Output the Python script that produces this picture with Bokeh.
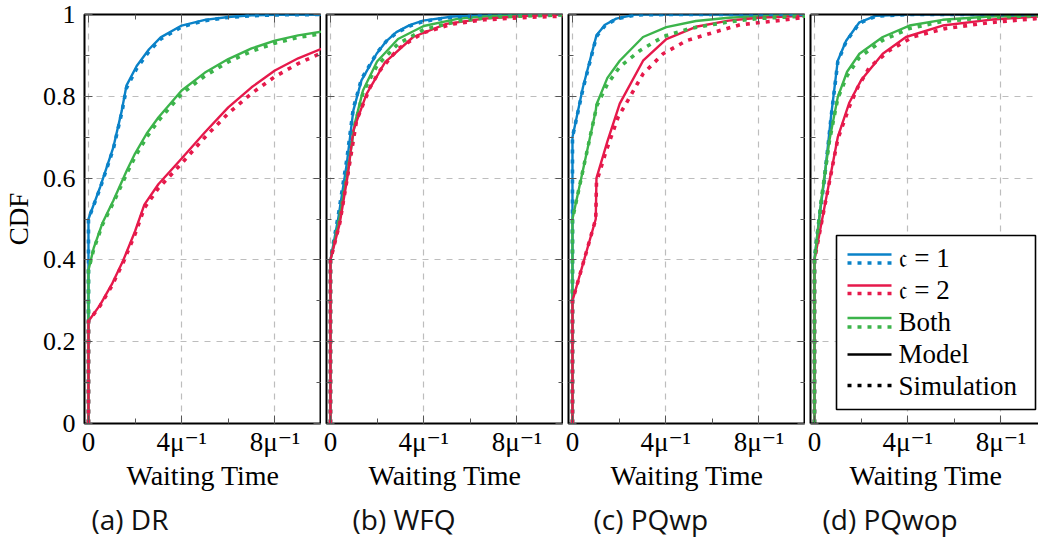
from bokeh.plotting import figure
from bokeh.layouts import row
from bokeh.models import (FixedTicker, LinearAxis, Range1d, BoxAnnotation, Title)
from bokeh.core.properties import value
from bokeh.embed import file_html
from bokeh.resources import INLINE

# ---------------- data ----------------
panel_names = ["(a) DR", "(b) WFQ", "(c) PQwp", "(d) PQwop"]
series_names = ["𝔠 = 1", "𝔠 = 2", "Both"]
x_ticks = [0, 4, 8]
x_tick_labels = ["0", "4μ⁻¹", "8μ⁻¹"]
y_ticks = [0, 0.2, 0.4, 0.6, 0.8, 1.0]
y_tick_labels = ["0", "0.2", "0.4", "0.6", "0.8", "1"]

# (a) DR
dr_c1_x = [0, 0, 0.5, 1.07, 1.43, 1.63, 2.07, 2.6, 3.1, 4.0, 5.0, 6.0, 7.0, 8.0, 10.0]
dr_c1_model = [0, 0.50, 0.578, 0.676, 0.765, 0.826, 0.874, 0.915, 0.944, 0.973, 0.987, 0.994, 0.998, 0.999, 1.0]
dr_c1_sim = [0, 0.50, 0.575, 0.672, 0.760, 0.820, 0.868, 0.910, 0.940, 0.970, 0.985, 0.993, 0.997, 0.999, 1.0]
dr_both_x = [0, 0, 0.22, 0.6, 1.07, 1.65, 2.0, 2.5, 3.0, 4.0, 5.0, 6.0, 7.0, 8.0, 9.0, 10.0]
dr_both_model = [0, 0.375, 0.428, 0.49, 0.545, 0.619, 0.66, 0.709, 0.748, 0.814, 0.858, 0.891, 0.917, 0.936, 0.949, 0.958]
dr_both_sim = [0, 0.375, 0.425, 0.486, 0.54, 0.612, 0.652, 0.70, 0.74, 0.806, 0.85, 0.884, 0.91, 0.93, 0.944, 0.953]
dr_c2_x = [0, 0, 0.5, 1.0, 1.5, 2.0, 2.4, 3.0, 4.0, 5.0, 6.0, 7.0, 8.0, 9.0, 10.0]
dr_c2_model = [0, 0.25, 0.29, 0.34, 0.40, 0.47, 0.535, 0.585, 0.648, 0.712, 0.773, 0.822, 0.863, 0.893, 0.916]
dr_c2_sim = [0, 0.25, 0.288, 0.336, 0.395, 0.463, 0.527, 0.575, 0.636, 0.70, 0.758, 0.807, 0.848, 0.88, 0.906]

# (b) WFQ
wfq_c1_x = [0, 0, 0.34, 0.7, 0.98, 1.33, 1.98, 2.4, 2.83, 3.4, 3.97, 5.26, 6.5, 8.0, 10.0]
wfq_c1_model = [0, 0.40, 0.504, 0.635, 0.765, 0.839, 0.904, 0.935, 0.957, 0.974, 0.985, 0.995, 0.998, 1.0, 1.0]
wfq_c1_sim = [0, 0.40, 0.51, 0.645, 0.77, 0.842, 0.905, 0.935, 0.955, 0.972, 0.983, 0.994, 0.998, 0.999, 1.0]
wfq_both_x = [0, 0, 0.35, 0.75, 1.05, 1.4, 2.0, 2.9, 4.0, 5.5, 7.0, 10.0]
wfq_both_model = [0, 0.40, 0.49, 0.62, 0.735, 0.815, 0.885, 0.94, 0.972, 0.99, 0.997, 1.0]
wfq_both_sim = [0, 0.40, 0.49, 0.618, 0.73, 0.81, 0.875, 0.928, 0.963, 0.984, 0.994, 0.999]
wfq_c2_model_x = [0, 0, 0.4, 0.75, 0.98, 1.55, 2.34, 3.55, 4.97, 6.6, 8.5, 10.0]
wfq_c2_model = [0, 0.40, 0.49, 0.61, 0.716, 0.806, 0.883, 0.945, 0.977, 0.99, 0.997, 1.0]
wfq_c2_sim_x = [0, 0, 0.4, 0.75, 1.12, 1.7, 2.12, 2.9, 3.97, 5.26, 6.6, 8.45, 10.0]
wfq_c2_sim = [0, 0.40, 0.49, 0.61, 0.741, 0.822, 0.863, 0.916, 0.955, 0.977, 0.987, 0.993, 0.996]

# (c) PQwp
pqwp_c1_x = [0, 0, 0.45, 1.03, 1.4, 1.88, 2.7, 4.0, 10.0]
pqwp_c1_model = [0, 0.70, 0.822, 0.949, 0.975, 0.99, 1.0, 1.0, 1.0]
pqwp_c1_sim = [0, 0.70, 0.818, 0.946, 0.973, 0.989, 0.999, 1.0, 1.0]
pqwp_both_model_x = [0, 0, 1.0, 1.03, 1.5, 2.03, 3.03, 4.03, 5.3, 6.7, 8.0, 10.0]
pqwp_both_model = [0, 0.50, 0.765, 0.78, 0.845, 0.887, 0.945, 0.969, 0.984, 0.992, 0.996, 0.999]
pqwp_both_sim_x = [0, 0, 1.0, 1.03, 1.5, 2.03, 2.9, 3.9, 5.05, 6.5, 7.9, 10.0]
pqwp_both_sim = [0, 0.50, 0.765, 0.775, 0.83, 0.872, 0.912, 0.946, 0.966, 0.98, 0.99, 0.996]
pqwp_c2_model_x = [0, 0, 1.0, 1.03, 1.5, 2.03, 3.03, 4.03, 5.3, 6.7, 8.0, 10.0]
pqwp_c2_model = [0, 0.30, 0.50, 0.60, 0.69, 0.782, 0.887, 0.94, 0.97, 0.985, 0.992, 0.997]
pqwp_c2_sim_x = [0, 0, 1.0, 1.03, 1.45, 1.96, 2.46, 3.03, 3.89, 4.89, 6.1, 7.2, 8.8, 10.0]
pqwp_c2_sim = [0, 0.30, 0.50, 0.59, 0.667, 0.749, 0.798, 0.855, 0.904, 0.936, 0.957, 0.975, 0.985, 0.993]

# (d) PQwop
pqwop_c1_x = [0, 0, 0.2, 0.43, 0.71, 1.0, 1.36, 1.93, 2.65, 4.0, 10.0]
pqwop_c1_model = [0, 0.40, 0.50, 0.60, 0.75, 0.887, 0.936, 0.981, 0.997, 1.0, 1.0]
pqwop_c1_sim = [0, 0.40, 0.50, 0.598, 0.747, 0.884, 0.934, 0.979, 0.996, 1.0, 1.0]
pqwop_both_x = [0, 0, 0.3, 0.64, 1.0, 1.4, 1.93, 2.93, 4.08, 5.5, 7.5, 10.0]
pqwop_both_model = [0, 0.40, 0.55, 0.692, 0.798, 0.86, 0.904, 0.945, 0.973, 0.987, 0.995, 0.999]
pqwop_both_sim = [0, 0.40, 0.55, 0.69, 0.795, 0.85, 0.895, 0.937, 0.966, 0.983, 0.993, 0.998]
pqwop_c2_model_x = [0, 0, 0.4, 1.0, 1.5, 2.0, 2.93, 3.93, 5.5, 7.5, 9.5, 10.0]
pqwop_c2_model = [0, 0.40, 0.52, 0.70, 0.785, 0.839, 0.904, 0.945, 0.973, 0.987, 0.995, 0.996]
pqwop_c2_sim_x = [0, 0, 0.4, 1.0, 1.5, 1.86, 2.36, 3.22, 4.22, 5.65, 7.5, 9.5, 10.0]
pqwop_c2_sim = [0, 0.40, 0.52, 0.695, 0.775, 0.822, 0.871, 0.912, 0.945, 0.966, 0.98, 0.99, 0.992]

# ---------------- style ----------------
BLUE = "#0a82c8"
RED = "#e6194b"
GREEN = "#3cb44b"
SERIF = "'Liberation Serif', 'DejaVu Serif', serif"
SANS = "'Open Sans', sans-serif"
MODEL_W = 2.4
SIM_W = 3.6
SIM_DASH = "4 6"

X_START = -0.17
PX_PER_UNIT = 23.3
FRAME_H = 409

panels = [
    [(BLUE, dr_c1_x, dr_c1_model, dr_c1_x, dr_c1_sim),
     (GREEN, dr_both_x, dr_both_model, dr_both_x, dr_both_sim),
     (RED, dr_c2_x, dr_c2_model, dr_c2_x, dr_c2_sim)],
    [(BLUE, wfq_c1_x, wfq_c1_model, wfq_c1_x, wfq_c1_sim),
     (GREEN, wfq_both_x, wfq_both_model, wfq_both_x, wfq_both_sim),
     (RED, wfq_c2_model_x, wfq_c2_model, wfq_c2_sim_x, wfq_c2_sim)],
    [(BLUE, pqwp_c1_x, pqwp_c1_model, pqwp_c1_x, pqwp_c1_sim),
     (GREEN, pqwp_both_model_x, pqwp_both_model, pqwp_both_sim_x, pqwp_both_sim),
     (RED, pqwp_c2_model_x, pqwp_c2_model, pqwp_c2_sim_x, pqwp_c2_sim)],
    [(BLUE, pqwop_c1_x, pqwop_c1_model, pqwop_c1_x, pqwop_c1_sim),
     (RED, pqwop_c2_model_x, pqwop_c2_model, pqwop_c2_sim_x, pqwop_c2_sim),
     (GREEN, pqwop_both_x, pqwop_both_model, pqwop_both_x, pqwop_both_sim)],
]
frame_widths = [237, 237, 237, 231]
left_borders = [81, 5, 5, 5]
caption_offsets_px = [7, 26, 25, 12]   # caption left edge relative to frame left

x_overrides = {t: l for t, l in zip(x_ticks, x_tick_labels)}
y_overrides = {t: l for t, l in zip(y_ticks, y_tick_labels)}


def style_axis(ax, ticks, minor, show_labels):
    ax.ticker = FixedTicker(ticks=ticks, minor_ticks=minor)
    ax.major_tick_in = 8
    ax.major_tick_out = 0
    ax.minor_tick_in = 5
    ax.minor_tick_out = 0
    ax.major_tick_line_color = "#555555"
    ax.minor_tick_line_color = "#555555"
    ax.axis_line_color = None
    if show_labels:
        ax.major_label_text_font = SERIF
        ax.major_label_text_font_size = "26px"
        ax.major_label_text_color = "black"
        ax.major_label_standoff = 9
    else:
        ax.major_label_text_font_size = "0px"
        ax.major_label_standoff = 0
        ax.major_label_overrides = {t: "" for t in ticks}


figs = []
for i, series in enumerate(panels):
    fw = frame_widths[i]
    x_end = X_START + fw / PX_PER_UNIT
    p = figure(frame_width=fw, frame_height=FRAME_H,
               x_range=Range1d(X_START, x_end), y_range=Range1d(0, 1),
               output_backend="svg", toolbar_location=None,
               min_border_left=left_borders[i], min_border_right=0,
               min_border_top=14, min_border_bottom=119,
               background_fill_color="white", border_fill_color="white")
    p.outline_line_color = "black" if i < 3 else None
    p.outline_line_width = 2

    p.xgrid.ticker = FixedTicker(ticks=x_ticks)
    p.ygrid.ticker = FixedTicker(ticks=y_ticks[1:-1])
    for g in (p.xgrid, p.ygrid):
        g.grid_line_color = "#bdbdbd"
        g.grid_line_dash = "6 6"
        g.grid_line_width = 1.2

    xa = p.xaxis[0]
    style_axis(xa, x_ticks, [2, 6, 10], True)
    xa.major_label_overrides = x_overrides
    xa.major_label_text_font_size = "27px"
    xa.major_label_standoff = 3
    xa.axis_label = "Waiting Time"
    xa.axis_label_text_font = SERIF
    xa.axis_label_text_font_size = "28px"
    xa.axis_label_text_font_style = "normal"
    xa.axis_label_text_color = "black"
    xa.axis_label_standoff = 0

    ya = p.yaxis[0]
    style_axis(ya, y_ticks, [0.1, 0.3, 0.5, 0.7, 0.9], i == 0)
    if i == 0:
        ya.major_label_overrides = y_overrides
        ya.axis_label = "CDF"
        ya.axis_label_text_font = SERIF
        ya.axis_label_text_font_size = "27px"
        ya.axis_label_text_font_style = "normal"
        ya.axis_label_text_color = "black"
        ya.axis_label_standoff = 6

    top = LinearAxis()
    style_axis(top, x_ticks, [2, 6, 10], False)
    p.add_layout(top, "above")
    if i < 3:
        right = LinearAxis()
        style_axis(right, y_ticks, [0.1, 0.3, 0.5, 0.7, 0.9], False)
        p.add_layout(right, "right")
    else:
        for ax in (xa, ya, top):
            ax.axis_line_color = "black"
            ax.axis_line_width = 2

    for color, mx, my, sx, sy in series:
        p.line(mx, my, line_color=color, line_width=MODEL_W)
    for color, mx, my, sx, sy in series:
        p.line(sx, sy, line_color=color, line_width=SIM_W, line_dash=SIM_DASH)

    cap = Title(text=panel_names[i], align="left", offset=caption_offsets_px[i],
                text_font=SANS, text_font_size="28px", text_font_style="normal",
                text_color="#111111", standoff=9)
    p.add_layout(cap, "below")
    figs.append(p)

# ---------------- legend (in panel d) ----------------
pd_ = figs[3]
def px2x(px):
    return X_START + (px - 809) / PX_PER_UNIT
def py2y(py):
    return (423 - py) / FRAME_H

pd_.add_layout(BoxAnnotation(left=px2x(835), right=px2x(1034), bottom=py2y(409), top=py2y(235),
                             fill_color="white", fill_alpha=1.0, line_color="black",
                             line_alpha=1.0, line_width=1.6, level="underlay"))
lx0, lx1, tx = px2x(846), px2x(890), px2x(897)
legend_rows = [
    (BLUE, series_names[0], 254, 262.5, 257),
    (RED, series_names[1], 285, 293, 289),
    (GREEN, series_names[2], 317.5, 326.5, 321.5),
]
for color, name, ys, yd, yt in legend_rows:
    pd_.line([lx0, lx1], [py2y(ys)] * 2, line_color=color, line_width=MODEL_W)
    pd_.line([lx0, lx1], [py2y(yd)] * 2, line_color=color, line_width=SIM_W, line_dash="4 6")
    pd_.text([tx], [py2y(yt)], text=[name], text_font=value(SERIF), text_font_size="27px",
             text_baseline="middle", text_color="black")
pd_.line([lx0, lx1], [py2y(354)] * 2, line_color="black", line_width=MODEL_W)
pd_.text([tx], [py2y(353)], text=["Model"], text_font=value(SERIF), text_font_size="27px",
         text_baseline="middle", text_color="black")
pd_.line([lx0, lx1], [py2y(385)] * 2, line_color="black", line_width=SIM_W, line_dash="4 6")
pd_.text([tx], [py2y(385)], text=["Simulation"], text_font=value(SERIF), text_font_size="27px",
         text_baseline="middle", text_color="black")

layout = row(*figs, spacing=0)
open("out.html", "w").write(file_html(layout, INLINE))
